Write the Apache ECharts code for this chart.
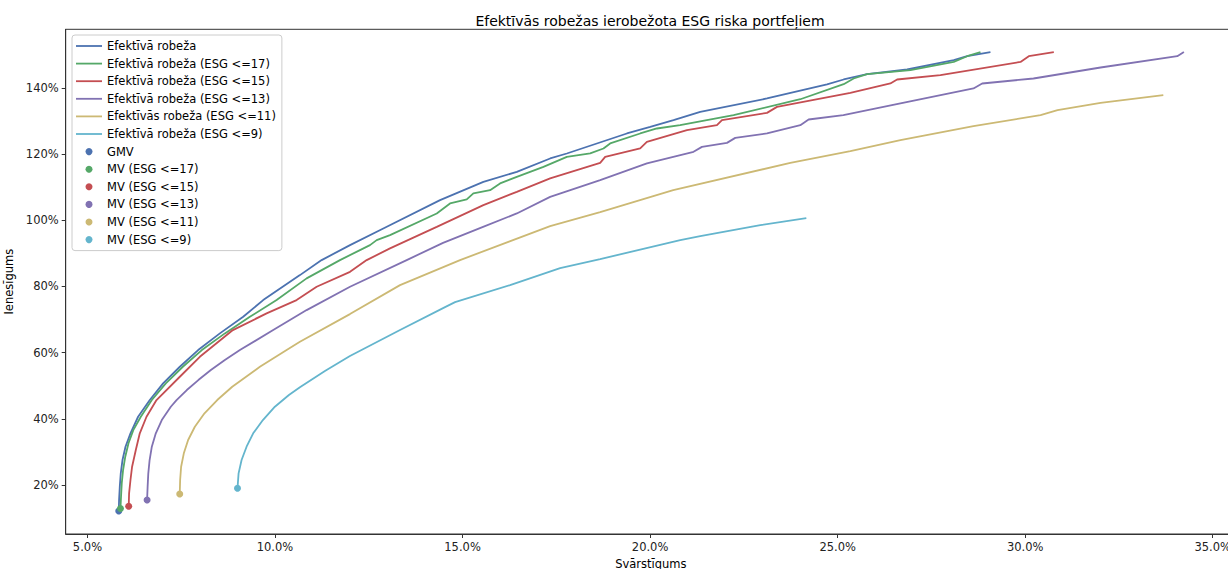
<!DOCTYPE html>
<html>
<head>
<meta charset="utf-8">
<script src="https://cdn.jsdelivr.net/npm/echarts@6/dist/echarts.min.js"></script>
<style>
html,body{margin:0;padding:0;background:#fff;}
#chart{width:1228px;height:569px;}
</style>
</head>
<body>
<div id="chart"></div>
<script>
// ---- Data (risk %, return %) ----
const seriesNames = [
  'Efektīvā robeža',
  'Efektīvā robeža (ESG <=17)',
  'Efektīvā robeža (ESG <=15)',
  'Efektīvā robeža (ESG <=13)',
  'Efektīvās robeža (ESG <=11)',
  'Efektīvā robeža (ESG <=9)'
];
const pointNames = ['GMV', 'MV (ESG <=17)', 'MV (ESG <=15)', 'MV (ESG <=13)', 'MV (ESG <=11)', 'MV (ESG <=9)'];

const frontAllX = [5.835,5.843,5.862,5.888,5.934,6.014,6.147,6.35,6.662,7.017,7.463,7.951,8.53,9.152,9.685,10.665,11.243,12.0,12.887,14.4,15.555,16.446,17.335,17.78,19.381,20.003,20.624,21.336,23.116,24.717,25.16,25.784,26.852,28.095,28.453,29.074];
const frontAllY = [12.15,15.47,19.49,23.53,27.55,31.57,35.62,40.63,45.68,50.72,55.74,60.79,65.83,70.85,75.89,83.44,87.98,92.5,97.55,106.1,111.63,114.65,118.7,120.2,126.25,128.25,130.27,132.78,136.83,141.06,142.57,144.17,145.59,148.4,149.6,150.82];

const front17X = [5.88,5.896,5.915,5.95,6.008,6.094,6.222,6.422,6.716,7.089,7.543,8.05,8.663,9.33,10.043,10.843,11.732,12.265,12.532,12.711,13.066,14.312,14.666,15.112,15.288,15.734,16.0,16.446,17.156,17.78,18.402,18.757,18.935,19.736,20.181,20.8,22.225,24.005,25.16,25.427,25.784,26.94,28.095,28.453,28.808];
const front17Y = [12.9,16.68,20.6,24.53,28.55,32.6,36.6,40.63,45.68,50.72,55.74,60.79,65.83,70.85,75.89,82.45,87.98,91.0,92.5,94.02,95.53,102.08,105.11,106.31,108.13,109.12,111.15,113.14,116.16,119.18,120.21,121.72,123.23,126.25,127.76,128.76,131.78,136.6,141.15,142.87,144.17,145.38,147.89,149.6,150.82];

const front15X = [6.1,6.11,6.147,6.19,6.289,6.395,6.574,6.841,7.463,7.996,8.877,9.776,10.576,11.11,12.0,12.444,13.066,14.312,15.555,16.446,17.335,18.669,18.802,19.736,19.914,20.982,21.782,21.916,23.116,23.383,25.339,26.406,26.585,27.74,29.875,30.096,30.763];
const front15Y = [13.56,17.49,21.51,25.53,30.57,35.62,40.63,45.68,52.72,58.76,66.83,71.87,75.89,79.91,84.44,87.98,91.51,98.04,104.59,108.61,112.66,117.37,119.18,121.72,123.72,127.25,128.76,130.27,132.48,134.29,138.52,141.36,142.57,143.87,147.89,149.61,150.82];

const front13X = [6.59,6.604,6.622,6.657,6.716,6.822,6.982,7.222,7.375,7.649,7.956,8.29,8.663,9.064,9.952,10.843,12.0,13.511,14.48,15.547,16.446,17.335,18.669,19.915,21.158,21.382,22.049,22.27,23.116,24.005,24.226,25.152,26.673,28.621,28.853,30.221,32.009,34.055,34.231];
const front13Y = [15.47,19.49,23.53,27.55,31.57,35.62,39.64,43.66,45.68,48.7,51.72,54.74,57.76,60.79,66.83,72.87,79.91,87.98,93.2,98.04,102.08,107.1,112.15,117.19,120.7,122.2,123.41,124.92,126.25,128.76,130.48,131.78,135.32,139.85,141.36,142.87,146.19,149.61,150.91];

const front11X = [7.46,7.471,7.497,7.569,7.684,7.863,8.12,8.46,8.86,9.597,10.31,10.664,11.998,13.333,14.933,17.335,18.669,20.616,23.738,25.339,26.673,28.621,30.409,30.862,32.009,33.682];
const front11Y = [17.3,21.51,25.53,29.58,33.6,37.61,41.66,45.68,49.7,55.74,60.79,63.29,71.66,80.42,87.98,98.25,102.48,109.12,117.37,120.91,124.23,128.46,131.78,133.29,135.5,137.82];

const front9X = [9.0,9.029,9.109,9.242,9.418,9.677,9.997,10.371,10.664,11.331,11.998,13.333,14.533,14.8,16.267,17.601,18.669,20.803,21.337,22.938,24.165];
const front9Y = [19.0,23.53,27.55,31.57,35.62,39.64,43.66,47.19,49.52,54.44,58.97,66.83,73.78,75.29,80.42,85.56,88.28,94.02,95.23,98.55,100.66];

const mvX = [5.835, 5.88, 6.1, 6.59, 7.46, 9.0];
const mvY = [12.15, 12.9, 13.56, 15.47, 17.3, 19.0];

const xTicks = [5, 10, 15, 20, 25, 30, 35];
const yTicks = [20, 40, 60, 80, 100, 120, 140];

const colors = ['#4C72B0', '#55A868', '#C44E52', '#8172B2', '#CCB974', '#64B5CD'];

// ---- Build ----
const lineXs = [frontAllX, front17X, front15X, front13X, front11X, front9X];
const lineYs = [frontAllY, front17Y, front15Y, front13Y, front11Y, front9Y];
const zip = (a, b) => a.map((v, i) => [v, b[i]]);

const series = [];
seriesNames.forEach((n, i) => {
  series.push({
    name: n, type: 'line', data: zip(lineXs[i], lineYs[i]),
    symbol: 'none', smooth: false, z: 2,
    lineStyle: { color: colors[i], width: 1.8 },
    itemStyle: { color: colors[i] }
  });
});
pointNames.forEach((n, i) => {
  series.push({
    name: n, type: 'scatter', data: [[mvX[i], mvY[i]]],
    symbol: 'circle', symbolSize: 7, z: 5,
    itemStyle: { color: colors[i], opacity: 1 }
  });
});

const lineIcon = 'path://M0,0L26,0L26,1.8L0,1.8Z';
const legendData = seriesNames.map(n => ({ name: n, icon: lineIcon }))
  .concat(pointNames.map(n => ({ name: n, icon: 'circle' })));

const FONT = 'DejaVu Sans';
const chart = echarts.init(document.getElementById('chart'), null, { renderer: 'svg' });
chart.setOption({
  animation: false,
  backgroundColor: '#fff',
  textStyle: { fontFamily: FONT },
  title: {
    text: 'Efektīvās robežas ierobežota ESG riska portfeļiem',
    left: 645, top: 9, textAlign: 'center',
    textStyle: { fontFamily: FONT, fontSize: 14, fontWeight: 'normal', color: '#000' }
  },
  grid: {
    left: 65.7, right: -8, top: 29.3, bottom: 35,
    outerBoundsMode: 'none', containLabel: false,
    show: true, borderColor: '#333', borderWidth: 1
  },
  legend: {
    orient: 'vertical', left: 72, top: 35,
    data: legendData,
    itemWidth: 26, itemHeight: 7, itemGap: 3.6,
    symbolKeepAspect: true,
    padding: [4, 6, 4, 4],
    backgroundColor: '#fff', borderColor: '#ccc', borderWidth: 1, borderRadius: 3,
    textStyle: { fontFamily: FONT, fontSize: 11.5, color: '#000', lineHeight: 14 },
    selectedMode: false
  },
  xAxis: {
    type: 'value', min: 4.42, max: 35.62,
    name: 'Svārstīgums', nameLocation: 'middle', nameGap: 21,
    nameTextStyle: { fontFamily: FONT, fontSize: 11.5, color: '#000' },
    axisLine: { show: true, lineStyle: { color: '#333', width: 1 } },
    axisTick: { show: true, inside: false, length: 4, customValues: xTicks, lineStyle: { color: '#333' } },
    axisLabel: { customValues: xTicks, formatter: v => v.toFixed(1) + '%', fontFamily: FONT, fontSize: 11.5, color: '#222', margin: 7 },
    splitLine: { show: false }
  },
  yAxis: {
    type: 'value', min: 5.19, max: 157.74,
    name: 'Ienesīgums', nameLocation: 'middle', nameGap: 43, nameRotate: 90,
    nameTextStyle: { fontFamily: FONT, fontSize: 11.5, color: '#000' },
    axisLine: { show: true, lineStyle: { color: '#333', width: 1 } },
    axisTick: { show: true, inside: false, length: 4, customValues: yTicks, lineStyle: { color: '#333' } },
    axisLabel: { customValues: yTicks, formatter: v => v.toFixed(0) + '%', fontFamily: FONT, fontSize: 11.5, color: '#222', margin: 7 },
    splitLine: { show: false }
  },
  series: series
});
</script>
</body>
</html>
